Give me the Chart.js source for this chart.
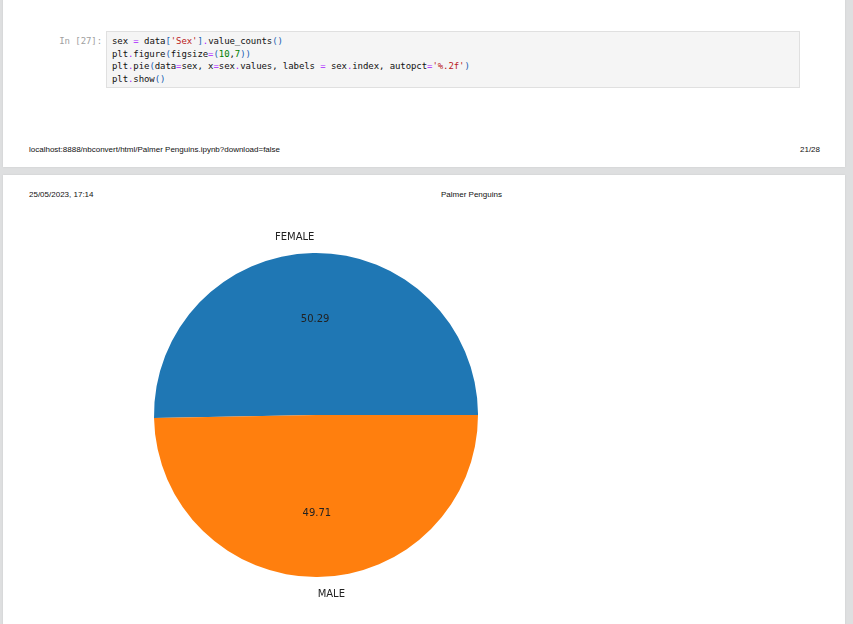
<!DOCTYPE html>
<html>
<head>
<meta charset="utf-8">
<script src="https://cdn.jsdelivr.net/npm/chart.js@4.4.0/dist/chart.umd.min.js"></script>
<style>
  body { margin: 0; width: 853px; height: 624px; overflow: hidden; background: #dedfe0; position: relative; }
  .page { position: absolute; left: 3px; width: 842px; background: #fff; box-shadow: 0 0 2px rgba(0,0,0,0.08); }
  .hf { position: absolute; font-family: "Liberation Sans", Arial, sans-serif; font-size: 8px; color: #111; white-space: nowrap; line-height: 10px; }
  .cell { position: absolute; left: 106px; top: 31px; width: 692px; height: 55px; background: #f5f5f5; border: 1px solid #e0e0e0; }
  .code { position: absolute; left: 112px; top: 35px; font-family: "DejaVu Sans Mono", monospace; font-size: 9px; letter-spacing: -0.08px; line-height: 12.5px; color: #111; white-space: pre; }
  .prompt { position: absolute; left: 58px; top: 35px; width: 44px; font-family: "DejaVu Sans Mono", monospace; font-size: 9px; letter-spacing: -0.08px; line-height: 12.5px; color: #a0a0a0; text-align: right; white-space: pre; }
  .o { color: #aa22ff; }
  .s { color: #ba2121; }
  .n { color: #008000; }
  .b { color: #1a5fb4; }
  #chart { position: absolute; left: 116px; top: 215px; }
</style>
</head>
<body>
<div class="page" style="top:-10px;height:177px;"></div>
<div class="page" style="top:175px;height:460px;"></div>

<div class="prompt">In [27]:</div>
<div class="cell"></div>
<div class="code">sex <span class="o">=</span> data<span class="b">[</span><span class="s">'Sex'</span><span class="b">]</span><span class="o">.</span>value_counts<span class="b">()</span>
plt<span class="o">.</span>figure<span class="b">(</span>figsize<span class="o">=</span><span class="b">(</span><span class="n">10</span>,<span class="n">7</span><span class="b">))</span>
plt<span class="o">.</span>pie<span class="b">(</span>data<span class="o">=</span>sex, x<span class="o">=</span>sex<span class="o">.</span>values, labels <span class="o">=</span> sex<span class="o">.</span>index, autopct<span class="o">=</span><span class="s">'%.2f'</span><span class="b">)</span>
plt<span class="o">.</span>show<span class="b">()</span></div>

<div class="hf" style="left:29px;top:145px;">localhost:8888/nbconvert/html/Palmer Penguins.ipynb?download=false</div>
<div class="hf" style="left:800px;top:145px;">21/28</div>
<div class="hf" style="left:29px;top:190px;">25/05/2023, 17:14</div>
<div class="hf" style="left:441px;top:190px;">Palmer Penguins</div>

<canvas id="chart" width="400" height="400"></canvas>

<script>
// данные: value_counts по полу
const sexLabels = ['FEMALE', 'MALE'];
const sexCounts = [173, 171];
const sliceColors = ['#1f77b4', '#ff7f0e'];

const total = sexCounts.reduce((a, b) => a + b, 0);
// matplotlib начинает с 3 часов и идёт против часовой, chart.js - по часовой от 12
const firstDeg = sexCounts[0] / total * 360;

// подписи как в plt.pie: метки на 1.1r, проценты на 0.6r
const pieLabels = {
    id: 'pieLabels',
    afterDatasetsDraw(chart) {
        const ctx = chart.ctx;
        const meta = chart.getDatasetMeta(0);
        ctx.save();
        ctx.font = '10px "DejaVu Sans"';
        ctx.fillStyle = '#222';
        ctx.textBaseline = 'middle';
        meta.data.forEach((arc, i) => {
            const p = arc.getProps(['x', 'y', 'startAngle', 'endAngle', 'outerRadius'], true);
            const mid = (p.startAngle + p.endAngle) / 2;
            const lx = p.x + 1.1 * p.outerRadius * Math.cos(mid);
            const ly = p.y + 1.1 * p.outerRadius * Math.sin(mid);
            ctx.textAlign = lx > p.x ? 'left' : 'right';
            ctx.fillText(sexLabels[i], lx, ly + 1);

            const px = p.x + 0.6 * p.outerRadius * Math.cos(mid);
            const py = p.y + 0.6 * p.outerRadius * Math.sin(mid);
            ctx.textAlign = 'center';
            ctx.fillText((sexCounts[i] / total * 100).toFixed(2), px, py + 1.5);
        });
        ctx.restore();
    }
};

new Chart(document.getElementById('chart'), {
    type: 'pie',
    data: {
        labels: sexLabels,
        datasets: [{
            data: sexCounts,
            backgroundColor: sliceColors,
            borderWidth: 0
        }]
    },
    options: {
        responsive: false,
        animation: false,
        rotation: 90 - firstDeg,
        layout: { padding: 38 },
        plugins: {
            legend: { display: false },
            tooltip: { enabled: false }
        }
    },
    plugins: [pieLabels]
});
</script>
</body>
</html>
